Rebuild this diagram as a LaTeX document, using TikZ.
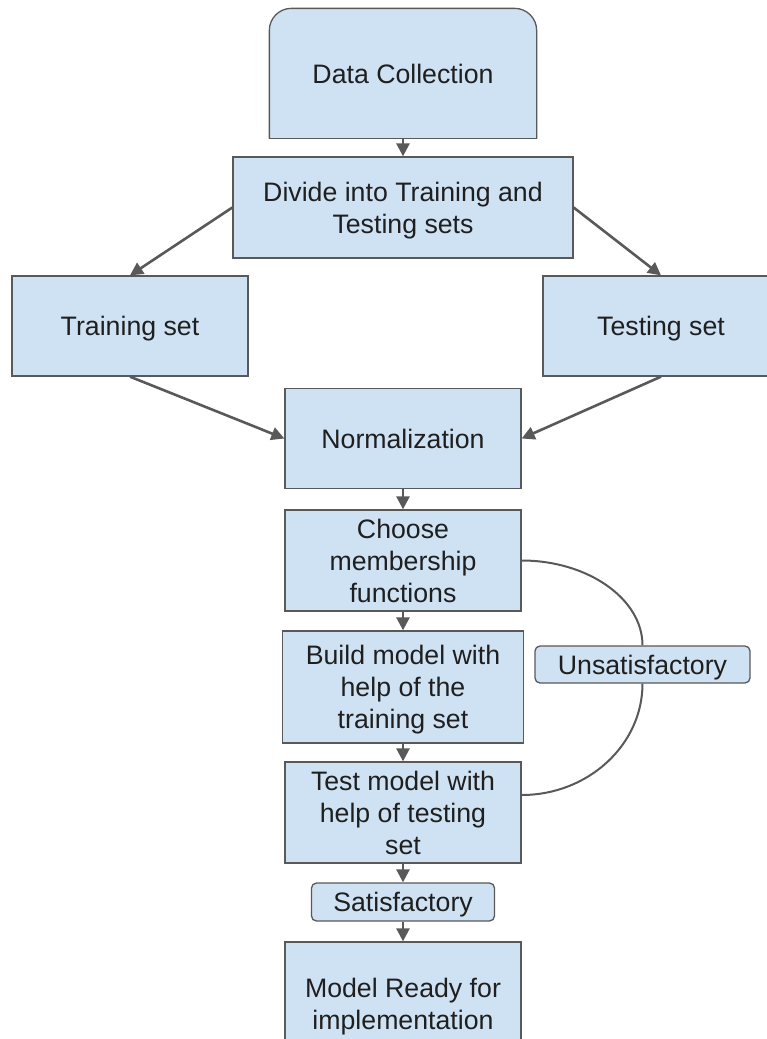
\documentclass[tikz,border=0pt]{standalone}
\usepackage{fontspec}
\setmainfont{Liberation Sans}
\usetikzlibrary{arrows.meta,backgrounds,calc}

\definecolor{boxblue}{HTML}{CFE2F3}
\definecolor{edgegray}{HTML}{595959}
\definecolor{inkdark}{HTML}{1F1F1F}

\tikzset{
  box/.style={draw=edgegray, line width=1.3pt, fill=boxblue, inner sep=0pt,
    align=center, text=inkdark,
    font=\fontsize{26.7}{32}\selectfont,
    % a slightly negative depth drops each label a touch below the middle
    text depth=-4pt},
  tagbox/.style={box, rounded corners=5pt},
  flow/.style={draw=edgegray, line width=2.6pt,
    -{Triangle[length=13pt,width=13pt]}},
  loopline/.style={draw=edgegray, line width=2pt}
}

\begin{document}
\begin{tikzpicture}[x=1pt, y=-1pt]
\path[use as bounding box, clip] (0,0) rectangle (767,1039);

% top box: rounded upper corners only
\node[box, draw=none, fill=none, minimum width=266pt, minimum height=129pt]
  (dc) at (403,73.5) {Data Collection};
\begin{pgfonlayer}{background}
  \fill[boxblue, rounded corners=22pt]
    (dc.south west) -- (dc.north west) -- (dc.north east) -- (dc.south east);
  \draw[edgegray, line width=1.3pt, rounded corners=22pt]
    (dc.south west) -- (dc.north west) -- (dc.north east) -- (dc.south east);
  \draw[edgegray, line width=1.3pt, line cap=rect]
    (dc.south west) -- (dc.south east);
\end{pgfonlayer}

\node[box, minimum width=340pt, minimum height=101pt] (div) at (403,207.5)
  {Divide into Training and\\Testing sets};
\node[box, minimum width=236pt, minimum height=100pt] (train) at (130,326)
  {Training set};
\node[box, minimum width=236pt, minimum height=100pt] (test) at (661,326)
  {Testing set};
\node[box, minimum width=236pt, minimum height=100pt] (norm) at (403,438.5)
  {Normalization};
\node[box, minimum width=236pt, minimum height=101pt] (choose) at (403,560.5)
  {Choose\\membership\\functions};
\node[box, minimum width=241pt, minimum height=112pt] (build) at (403,687)
  {Build model with\\help of the\\training set};
\node[box, minimum width=236pt, minimum height=101pt] (testm) at (403,812.5)
  {Test model with\\help of testing\\set};
\node[tagbox, minimum width=183pt, minimum height=38pt] (sat) at (403,902)
  {Satisfactory};
\node[box, minimum width=236pt, minimum height=124pt] (model) at (403,1004)
  {Model Ready for\\implementation};
\node[tagbox, minimum width=215pt, minimum height=37pt] (unsat) at (642.5,664.5)
  {Unsatisfactory};

% main flow
\draw[flow] (dc.south) -- (div.north);
\draw[flow] (div.west) -- (train.north);
\draw[flow] (div.east) -- (test.north);
\draw[flow] (train.south) -- (norm.west);
\draw[flow] (test.south) -- (norm.east);
\draw[flow] (norm.south) -- (choose.north);
\draw[flow] (choose.south) -- (build.north);
\draw[flow] (build.south) -- (testm.north);
\draw[flow] (testm.south) -- (sat.north);
\draw[flow] (sat.south) -- (model.north);

% feedback loop through the label
\coordinate (loopend) at ([yshift=17.5pt]testm.east);
\draw[loopline] (choose.east) .. controls (588,560.5) and (642.5,599) .. (unsat.north);
\draw[loopline] (unsat.south) .. controls (642.5,745) and (588,795) .. (loopend);
\end{tikzpicture}
\end{document}
